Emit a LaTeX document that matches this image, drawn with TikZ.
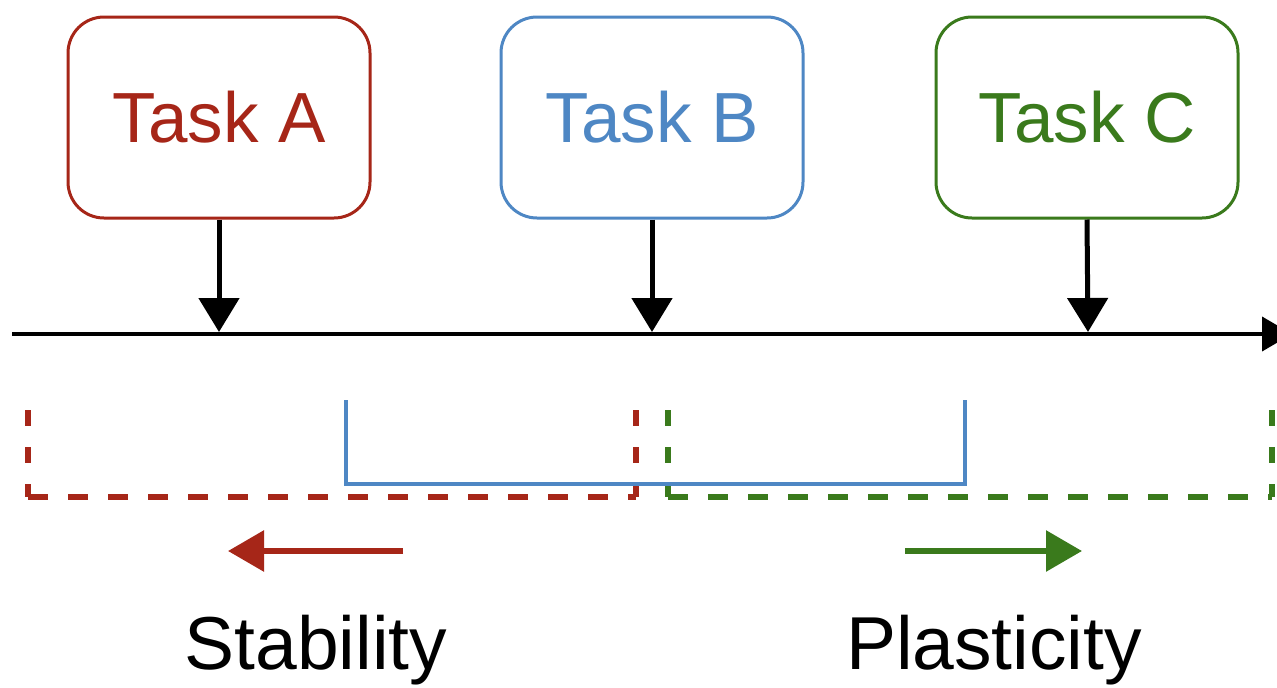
\documentclass[tikz,border=0pt]{standalone}
\usepackage{fontspec}
\setmainfont{Liberation Sans}
\usetikzlibrary{arrows.meta}
\definecolor{cred}{RGB}{166,38,24}
\definecolor{cblue}{RGB}{78,135,196}
\definecolor{cgreen}{RGB}{58,122,28}
\tikzset{
  taskbox/.style={draw=#1, text=#1, line width=3pt, rounded corners=36pt,
    minimum width=302pt, minimum height=201pt, inner sep=0pt,
    font=\fontsize{71}{82}\selectfont},
  blackarrow/.style={line width=5pt, -{Triangle[length=34pt,width=40pt]}},
  colarrow/.style={draw=#1, line width=6pt, -{Triangle[length=36pt,width=40pt]}},
  dashv/.style={draw=#1, line width=6pt, dash pattern=on 16pt off 21pt},
  dashh/.style={draw=#1, line width=6pt, dash pattern=on 20pt off 20pt},
  lbl/.style={font=\fontsize{75}{85}\selectfont, inner sep=0pt}
}
\begin{document}
\begin{tikzpicture}[x=1pt,y=-1pt]
\useasboundingbox (0,0) rectangle (1277,688);
\clip (0,0) rectangle (1277,688);
\fill[white] (0,0) rectangle (1277,688);
% task boxes
\node[taskbox=cred]   (A) at (219,117.5) {Task A};
\node[taskbox=cblue]  (B) at (652,117.5) {Task B};
\node[taskbox=cgreen] (C) at (1087,117.5) {Task C};
% axis
\coordinate (ax0) at (12,334);
\coordinate (ax1) at (1292,334);
\draw[line width=4pt, -{Triangle[length=30pt,width=34pt]}] (ax0) -- (ax1);
\coordinate (tA) at (219,332);
\coordinate (tB) at (652,332);
\coordinate (tC) at (1088,332);
\draw[blackarrow] (A.south) -- (tA);
\draw[blackarrow] (B.south) -- (tB);
\draw[blackarrow] (C.south) -- (tC);
% dashed brackets
\coordinate (r1) at (28,410);
\coordinate (r2) at (28,497);
\coordinate (r3) at (636,497);
\coordinate (r4) at (636,410);
\draw[dashv=cred] (r1) -- (r2);
\draw[dashv=cred] (r4) -- (r3);
\draw[dashh=cred] (r2) -- (r3);
\coordinate (g1) at (668,410);
\coordinate (g2) at (668,497);
\coordinate (g3) at (1272,497);
\coordinate (g4) at (1272,410);
\draw[dashv=cgreen] (g1) -- (g2);
\draw[dashv=cgreen] (g4) -- (g3);
\draw[dashh=cgreen] (g2) -- (g3);
% blue solid bracket
\coordinate (b1) at (346,400);
\coordinate (b2) at (346,484);
\coordinate (b3) at (965,484);
\coordinate (b4) at (965,400);
\draw[cblue, line width=4.5pt] (b1) -- (b2) -- (b3) -- (b4);
% direction arrows
\coordinate (sa0) at (403,551);
\coordinate (sa1) at (228,551);
\coordinate (pa0) at (905,551);
\coordinate (pa1) at (1082,551);
\draw[colarrow=cred] (sa0) -- (sa1);
\draw[colarrow=cgreen] (pa0) -- (pa1);
% labels
\node[lbl] (S) at (316,650) {Stability};
\node[lbl] (P) at (994,650) {Plasticity};
\end{tikzpicture}
\end{document}
